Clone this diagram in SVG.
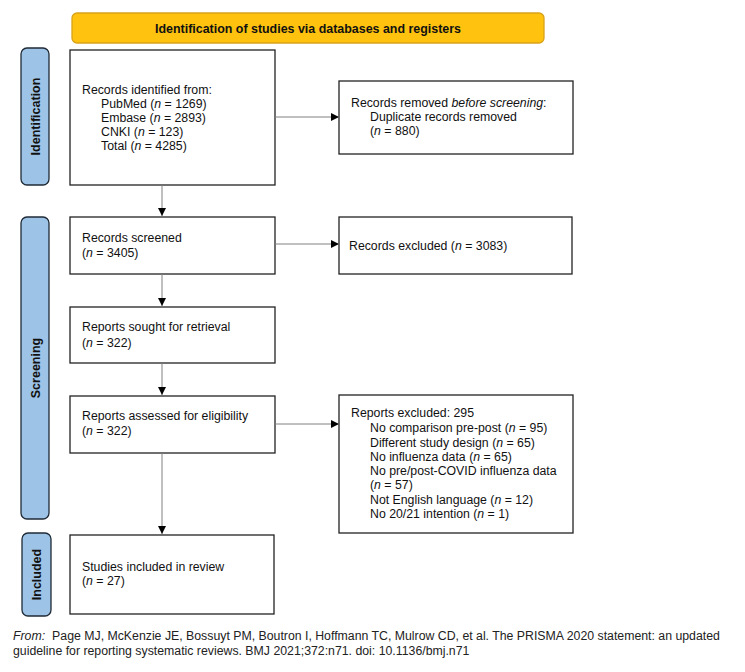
<svg xmlns="http://www.w3.org/2000/svg" width="745" height="672" viewBox="0 0 745 672">
<defs>
<style>
.box{fill:#fff;stroke:#222;stroke-width:1.3}
.side{fill:#9DC3E6;stroke:#1f2a36;stroke-width:1.3}
.t{font-family:"Liberation Sans",Arial,sans-serif;font-size:12.3px;fill:#111}
.st{font-family:"Liberation Sans",Arial,sans-serif;font-size:12.5px;font-weight:bold;fill:#111}
.ft{font-family:"Liberation Sans",Arial,sans-serif;font-size:12.3px;fill:#222}
.i{font-style:italic}
.c{stroke:#808080;stroke-width:1;fill:none}
</style>
<marker id="ah" viewBox="0 0 10 10" refX="10" refY="5" markerWidth="8" markerHeight="8" markerUnits="userSpaceOnUse" orient="auto">
<path d="M0,0 L10,5 L0,10 z" fill="#000"/>
</marker>
</defs>
<rect width="745" height="672" fill="#fff"/>

<g id="banner">
<rect x="72" y="13" width="472" height="30" rx="5" fill="#FFC20E" stroke="#D9A21B" stroke-width="1.3"/>
<text class="st" x="308" y="32.5" text-anchor="middle" textLength="306" lengthAdjust="spacingAndGlyphs">Identification of studies via databases and registers</text>
</g>

<g id="label-identification">
<rect class="side" x="21" y="48" width="28" height="137" rx="6"/>
<text class="st" transform="translate(39.5,116.5) rotate(-90)" text-anchor="middle">Identification</text>
</g>
<g id="label-screening">
<rect class="side" x="21" y="217" width="28" height="302" rx="6"/>
<text class="st" transform="translate(39.5,368) rotate(-90)" text-anchor="middle">Screening</text>
</g>
<g id="label-included">
<rect class="side" x="22" y="533" width="29" height="83" rx="6"/>
<text class="st" transform="translate(40.5,574.5) rotate(-90)" text-anchor="middle">Included</text>
</g>

<g id="records-identified">
<rect class="box" x="70" y="50" width="205" height="135"/>
<text class="t" x="82" y="94">Records identified from:</text>
<text class="t" x="101" y="108">PubMed (<tspan class="i">n</tspan> = 1269)</text>
<text class="t" x="101" y="122">Embase (<tspan class="i">n</tspan> = 2893)</text>
<text class="t" x="101" y="136">CNKI (<tspan class="i">n</tspan> = 123)</text>
<text class="t" x="101" y="150">Total (<tspan class="i">n</tspan> = 4285)</text>
</g>

<g id="records-removed">
<rect class="box" x="339" y="81" width="234" height="73"/>
<text class="t" x="351" y="107">Records removed <tspan class="i">before screening</tspan>:</text>
<text class="t" x="370" y="121">Duplicate records removed</text>
<text class="t" x="370" y="135">(<tspan class="i">n</tspan> = 880)</text>
</g>

<g id="records-screened">
<rect class="box" x="70" y="217" width="205" height="57"/>
<text class="t" x="82" y="242">Records screened</text>
<text class="t" x="82" y="257">(<tspan class="i">n</tspan> = 3405)</text>
</g>

<g id="records-excluded">
<rect class="box" x="339" y="217" width="233" height="57"/>
<text class="t" x="349" y="250">Records excluded (<tspan class="i">n</tspan> = 3083)</text>
</g>

<g id="reports-sought">
<rect class="box" x="70" y="307" width="205" height="56"/>
<text class="t" x="82" y="331">Reports sought for retrieval</text>
<text class="t" x="82" y="347">(<tspan class="i">n</tspan> = 322)</text>
</g>

<g id="reports-assessed">
<rect class="box" x="70" y="396" width="205" height="57"/>
<text class="t" x="82" y="420">Reports assessed for eligibility</text>
<text class="t" x="82" y="435">(<tspan class="i">n</tspan> = 322)</text>
</g>

<g id="reports-excluded">
<rect class="box" x="339" y="395" width="234" height="138"/>
<text class="t" x="351" y="417">Reports excluded: 295</text>
<text class="t" x="370" y="432">No comparison pre-post (<tspan class="i">n</tspan> = 95)</text>
<text class="t" x="370" y="446.5">Different study design (<tspan class="i">n</tspan> = 65)</text>
<text class="t" x="370" y="461">No influenza data (<tspan class="i">n</tspan> = 65)</text>
<text class="t" x="370" y="475">No pre/post-COVID influenza data</text>
<text class="t" x="370" y="489">(<tspan class="i">n</tspan> = 57)</text>
<text class="t" x="370" y="503.5">Not English language (<tspan class="i">n</tspan> = 12)</text>
<text class="t" x="370" y="517.5">No 20/21 intention (<tspan class="i">n</tspan> = 1)</text>
</g>

<g id="studies-included">
<rect class="box" x="70" y="535" width="204" height="79"/>
<text class="t" x="82" y="571">Studies included in review</text>
<text class="t" x="82" y="585">(<tspan class="i">n</tspan> = 27)</text>
</g>

<g id="connectors">
<line class="c" x1="275" y1="117" x2="339" y2="117" marker-end="url(#ah)"/>
<line class="c" x1="162" y1="185" x2="162" y2="216" marker-end="url(#ah)"/>
<line class="c" x1="275" y1="244" x2="339" y2="244" marker-end="url(#ah)"/>
<line class="c" x1="162" y1="274" x2="162" y2="306" marker-end="url(#ah)"/>
<line class="c" x1="162" y1="363" x2="162" y2="395" marker-end="url(#ah)"/>
<line class="c" x1="275" y1="424" x2="339" y2="424" marker-end="url(#ah)"/>
<line class="c" x1="162" y1="453" x2="162" y2="534" marker-end="url(#ah)"/>
</g>

<g id="footer">
<text class="ft" x="13" y="640"><tspan class="i">From:</tspan><tspan dx="7">Page MJ, McKenzie JE, Bossuyt PM, Boutron I, Hoffmann TC, Mulrow CD, et al. The PRISMA 2020 statement: an updated</tspan></text>
<text class="ft" x="13" y="655">guideline for reporting systematic reviews. BMJ 2021;372:n71. doi: 10.1136/bmj.n71</text>
</g>
</svg>
